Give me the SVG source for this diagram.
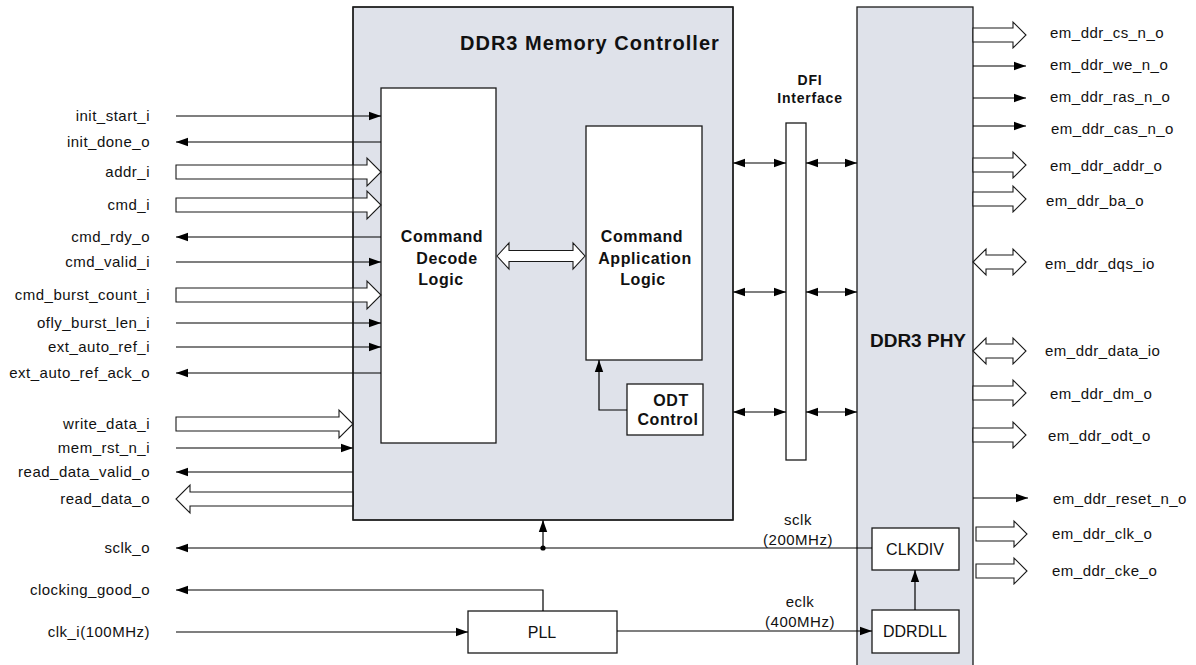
<svg xmlns="http://www.w3.org/2000/svg" width="1196" height="665" viewBox="0 0 1196 665">
<style>
.blk{fill:#dfe2ea;stroke:#1a1a1a;stroke-width:1.3}
.box{fill:#fff;stroke:#1a1a1a;stroke-width:1.3}
.edge{fill:none;stroke:#1a1a1a;stroke-width:1.3}
.ln{fill:none;stroke:#000;stroke-width:1.2}
.ar{fill:none;stroke:#000;stroke-width:1.2;marker-end:url(#ah)}
.ar2{fill:none;stroke:#000;stroke-width:1.2;marker-start:url(#ah);marker-end:url(#ah)}
.bus{fill:#fff;stroke:#1a1a1a;stroke-width:1.1}
.lbl{font-family:"Liberation Sans",Arial,sans-serif;font-size:15px;letter-spacing:0.5px;fill:#111}
.l{text-anchor:end}
.c{text-anchor:middle}
.bt{font-family:"Liberation Sans",Arial,sans-serif;font-weight:bold;font-size:16px;letter-spacing:0.6px;fill:#111;text-anchor:middle}
.rt{font-family:"Liberation Sans",Arial,sans-serif;font-size:16px;fill:#111;text-anchor:middle}
</style>
<defs>
<marker id="ah" viewBox="0 0 12 10" refX="12" refY="5" markerWidth="12" markerHeight="10" markerUnits="userSpaceOnUse" orient="auto-start-reverse"><path d="M0,0.8 L12,5 L0,9.2 z" fill="#000"/></marker>
</defs>
<rect width="1196" height="665" fill="#fff"/>

<g id="memory-controller">
<rect class="blk" x="353" y="7" width="380" height="513"/>
<text x="460" y="50" style="font-family:'Liberation Sans',Arial,sans-serif;font-weight:bold;font-size:20px;letter-spacing:1px;fill:#111">DDR3 Memory Controller</text>
</g>

<g id="ddr3-phy">
<rect class="blk" x="857" y="7" width="116" height="665"/>
<text x="918" y="347" style="font-family:'Liberation Sans',Arial,sans-serif;font-weight:bold;font-size:19px;fill:#111;text-anchor:middle">DDR3 PHY</text>
</g>

<g id="command-decode-logic">
<rect class="box" x="381" y="88" width="115" height="355"/>
<text class="bt" x="442" y="242">Command</text>
<text class="bt" x="447" y="264">Decode</text>
<text class="bt" x="441" y="285">Logic</text>
</g>

<g id="command-application-logic">
<rect class="box" x="586" y="126" width="116" height="234"/>
<text class="bt" x="642" y="242">Command</text>
<text class="bt" x="645" y="264">Application</text>
<text class="bt" x="643" y="285">Logic</text>
</g>

<g id="odt-control">
<rect class="box" x="627" y="384" width="76" height="51"/>
<text class="bt" x="671" y="406">ODT</text>
<text class="bt" x="668" y="425">Control</text>
</g>

<g id="dfi-interface">
<rect class="box" x="786" y="123" width="20" height="337"/>
<text x="810" y="85" style="font-family:'Liberation Sans',Arial,sans-serif;font-weight:bold;font-size:14px;letter-spacing:0.8px;fill:#111;text-anchor:middle">DFI</text>
<text x="810" y="103" style="font-family:'Liberation Sans',Arial,sans-serif;font-weight:bold;font-size:14px;letter-spacing:0.8px;fill:#111;text-anchor:middle">Interface</text>
</g>

<g id="pll">
<rect class="box" x="468" y="611" width="149" height="42"/>
<text class="rt" x="542" y="638">PLL</text>
</g>

<g id="clkdiv">
<rect class="box" x="872" y="528" width="87" height="42"/>
<text class="rt" x="915" y="555">CLKDIV</text>
</g>

<g id="ddrdll">
<rect class="box" x="872" y="610" width="87" height="43"/>
<text class="rt" x="915" y="637">DDRDLL</text>
</g>

<g id="connectors">
<!-- left inputs/outputs -->
<line class="ar" x1="176" y1="116" x2="381" y2="116"/>
<line class="ar" x1="381" y1="142" x2="176" y2="142"/>
<polygon class="bus" points="176,165 367,165 367,158 381,172 367,186 367,179 176,179"/>
<polygon class="bus" points="176,198 367,198 367,191 381,205 367,219 367,212 176,212"/>
<line class="ar" x1="381" y1="237" x2="176" y2="237"/>
<line class="ar" x1="176" y1="262" x2="381" y2="262"/>
<polygon class="bus" points="176,288 367,288 367,281 381,295 367,309 367,302 176,302"/>
<line class="ar" x1="176" y1="323" x2="381" y2="323"/>
<line class="ar" x1="176" y1="347" x2="381" y2="347"/>
<line class="ar" x1="381" y1="373" x2="176" y2="373"/>
<polygon class="bus" points="176,417 339,417 339,410 353,424 339,438 339,431 176,431"/>
<line class="ar" x1="176" y1="448" x2="353" y2="448"/>
<line class="ar" x1="353" y1="472" x2="176" y2="472"/>
<polygon class="bus" points="353,492 190,492 190,485 176,499 190,513 190,506 353,506"/>
<!-- internal -->
<polygon class="bus" points="497,256 509,243 509,250.5 573,250.5 573,243 585,256 573,269 573,261.5 509,261.5 509,269"/>
<polyline class="ar" points="627,410 599,410 599,360"/>
<!-- DFI -->
<line class="ar2" x1="733" y1="163" x2="786" y2="163"/>
<line class="ar2" x1="733" y1="292" x2="786" y2="292"/>
<line class="ar2" x1="733" y1="412" x2="786" y2="412"/>
<line class="ar2" x1="806" y1="163" x2="857" y2="163"/>
<line class="ar2" x1="806" y1="292" x2="857" y2="292"/>
<line class="ar2" x1="806" y1="412" x2="857" y2="412"/>
<!-- clocks -->
<line class="ar" x1="872" y1="548" x2="176" y2="548"/>
<line class="ar" x1="543" y1="548" x2="543" y2="520"/>
<circle cx="543" cy="548" r="2.6" fill="#000"/>
<polyline class="ar" points="543,611 543,590 176,590"/>
<line class="ar" x1="176" y1="632" x2="468" y2="632"/>
<line class="ar" x1="617" y1="631" x2="872" y2="631"/>
<line class="ar" x1="915" y1="610" x2="915" y2="570"/>
<!-- right outputs -->
<polygon class="bus" points="973,28 1013,28 1013,22 1026,35 1013,48 1013,42 973,42"/>
<line class="ar" x1="973" y1="66" x2="1026" y2="66"/>
<line class="ar" x1="973" y1="98" x2="1026" y2="98"/>
<line class="ar" x1="973" y1="126" x2="1026" y2="126"/>
<polygon class="bus" points="973,158 1013,158 1013,152 1026,165 1013,178 1013,172 973,172"/>
<polygon class="bus" points="973,192 1013,192 1013,186 1026,199 1013,212 1013,206 973,206"/>
<polygon class="bus" points="973,262 986,249 986,255 1013,255 1013,249 1026,262 1013,275 1013,269 986,269 986,275"/>
<polygon class="bus" points="973,351 986,338 986,344 1013,344 1013,338 1026,351 1013,364 1013,358 986,358 986,364"/>
<polygon class="bus" points="973,386 1013,386 1013,380 1026,393 1013,406 1013,400 973,400"/>
<polygon class="bus" points="973,428 1013,428 1013,422 1026,435 1013,448 1013,442 973,442"/>
<line class="ar" x1="973" y1="498" x2="1028" y2="498"/>
<polygon class="bus" points="976,527 1014,527 1014,521 1027,534 1014,547 1014,541 976,541"/>
<polygon class="bus" points="976,564 1014,564 1014,558 1027,571 1014,584 1014,578 976,578"/>
</g>
<rect class="edge" x="353" y="7" width="380" height="513"/>

<g id="signal-labels">
<text class="lbl l" x="150" y="121">init_start_i</text>
<text class="lbl l" x="150" y="147">init_done_o</text>
<text class="lbl l" x="150" y="177">addr_i</text>
<text class="lbl l" x="150" y="210">cmd_i</text>
<text class="lbl l" x="150" y="242">cmd_rdy_o</text>
<text class="lbl l" x="150" y="267">cmd_valid_i</text>
<text class="lbl l" x="150" y="300">cmd_burst_count_i</text>
<text class="lbl l" x="150" y="328">ofly_burst_len_i</text>
<text class="lbl l" x="150" y="352">ext_auto_ref_i</text>
<text class="lbl l" x="150" y="378">ext_auto_ref_ack_o</text>
<text class="lbl l" x="150" y="429">write_data_i</text>
<text class="lbl l" x="150" y="453">mem_rst_n_i</text>
<text class="lbl l" x="150" y="477">read_data_valid_o</text>
<text class="lbl l" x="150" y="504">read_data_o</text>
<text class="lbl l" x="150" y="553">sclk_o</text>
<text class="lbl l" x="150" y="595">clocking_good_o</text>
<text class="lbl l" x="150" y="637">clk_i(100MHz)</text>
<text class="lbl c" x="798" y="525">sclk</text>
<text class="lbl c" x="798" y="545">(200MHz)</text>
<text class="lbl c" x="800" y="607">eclk</text>
<text class="lbl c" x="800" y="627">(400MHz)</text>
<text class="lbl" x="1050" y="38">em_ddr_cs_n_o</text>
<text class="lbl" x="1050" y="70">em_ddr_we_n_o</text>
<text class="lbl" x="1050" y="102">em_ddr_ras_n_o</text>
<text class="lbl" x="1051" y="134">em_ddr_cas_n_o</text>
<text class="lbl" x="1050" y="171">em_ddr_addr_o</text>
<text class="lbl" x="1046" y="206">em_ddr_ba_o</text>
<text class="lbl" x="1045" y="269">em_ddr_dqs_io</text>
<text class="lbl" x="1045" y="356">em_ddr_data_io</text>
<text class="lbl" x="1050" y="399">em_ddr_dm_o</text>
<text class="lbl" x="1048" y="441">em_ddr_odt_o</text>
<text class="lbl" x="1053" y="504">em_ddr_reset_n_o</text>
<text class="lbl" x="1052" y="539">em_ddr_clk_o</text>
<text class="lbl" x="1052" y="576">em_ddr_cke_o</text>
</g>
</svg>
